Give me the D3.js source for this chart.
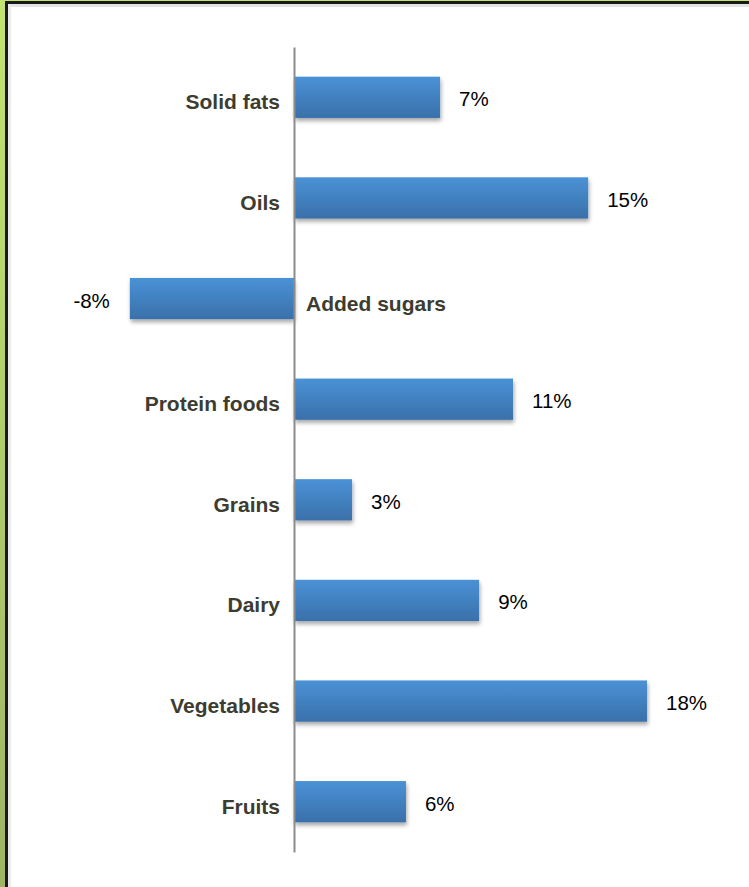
<!DOCTYPE html>
<html><head><meta charset="utf-8">
<script src="https://cdn.jsdelivr.net/npm/d3@7"></script>
<style>html,body{margin:0;padding:0;background:#fff;overflow:hidden}</style>
</head><body>
<svg id="c" width="749" height="887"></svg>
<script>
const categories = ["Solid fats","Oils","Added sugars","Protein foods","Grains","Dairy","Vegetables","Fruits"];
const values = [7.45, 15.0, -8.37, 11.17, 2.96, 9.44, 18.0, 5.71];
const valueLabels = ["7%","15%","-8%","11%","3%","9%","18%","6%"];

const svg = d3.select("#c");
const defs = svg.append("defs");
const lg = defs.append("linearGradient").attr("id","bg").attr("x1",0).attr("y1",0).attr("x2",0).attr("y2",1);
lg.append("stop").attr("offset","0%").attr("stop-color","#4a92d6");
lg.append("stop").attr("offset","100%").attr("stop-color","#3a70aa");
const gl = defs.append("linearGradient").attr("id","gl").attr("x1",0).attr("y1",0).attr("x2",0).attr("y2",1);
gl.append("stop").attr("offset","0%").attr("stop-color","#c2e472");
gl.append("stop").attr("offset","100%").attr("stop-color","#9fb562");
const f = defs.append("filter").attr("id","sh").attr("x","-10%").attr("y","-20%").attr("width","130%").attr("height","160%");
f.append("feGaussianBlur").attr("in","SourceAlpha").attr("stdDeviation",2);
f.append("feOffset").attr("dx",1).attr("dy",3).attr("result","ob");
f.append("feComponentTransfer").append("feFuncA").attr("type","linear").attr("slope",0.35);
const fm = f.append("feMerge"); fm.append("feMergeNode"); fm.append("feMergeNode").attr("in","SourceGraphic");

// frame
svg.append("rect").attr("x",0).attr("y",0).attr("width",749).attr("height",887).attr("fill","url(#gl)");
svg.append("rect").attr("x",8).attr("y",4).attr("width",741).attr("height",883).attr("fill","#fff");
svg.append("rect").attr("x",8).attr("y",4).attr("width",741).attr("height",3).attr("fill","#e4e4e4");
svg.append("rect").attr("x",8).attr("y",4).attr("width",3).attr("height",883).attr("fill","#ececec");
svg.append("rect").attr("x",5).attr("y",1).attr("width",744).attr("height",3).attr("fill","#1a1a1a");
svg.append("rect").attr("x",5).attr("y",1).attr("width",3).attr("height",886).attr("fill","#1a1a1a");

const x = d3.scaleLinear().domain([0,18]).range([294,647]);
const y = d3.scaleBand().domain(categories).range([47,852]).paddingInner(0.59).paddingOuter(0.295);

const data = categories.map((c,i)=>({c, v:values[i], l:valueLabels[i]}));

svg.append("g").selectAll("rect").data(data).join("rect")
  .attr("x", d=>Math.min(x(0),x(d.v)))
  .attr("y", d=>y(d.c))
  .attr("width", d=>Math.abs(x(d.v)-x(0)))
  .attr("height", y.bandwidth())
  .attr("fill","url(#bg)")
  .attr("filter","url(#sh)");

// axis
const axis = d3.axisLeft(y).tickSize(0).tickFormat("");
svg.append("g").attr("transform",`translate(${x(0)},0)`).call(axis)
  .call(g=>g.select(".domain").attr("stroke","#8c8c8c").attr("stroke-width",2));

// category labels
svg.append("g").selectAll("text").data(data).join("text")
  .attr("x", d=> d.v<0 ? x(0)+12 : x(0)-14)
  .attr("y", d=>y(d.c)+y.bandwidth()/2+12)
  .attr("text-anchor", d=> d.v<0 ? "start":"end")
  .attr("font-family","Liberation Sans, Arial, sans-serif")
  .attr("font-weight","bold")
  .attr("font-size",21)
  .attr("fill","#3c3c31")
  .text(d=>d.c);

// value labels
svg.append("g").selectAll("text").data(data).join("text")
  .attr("x", d=> d.v<0 ? x(d.v)-20 : x(d.v)+19)
  .attr("y", d=>y(d.c)+y.bandwidth()/2+9)
  .attr("text-anchor", d=> d.v<0 ? "end":"start")
  .attr("font-family","Liberation Sans, Arial, sans-serif")
  .attr("font-size",20.5)
  .attr("fill","#000")
  .text(d=>d.l);
</script>
</body></html>
